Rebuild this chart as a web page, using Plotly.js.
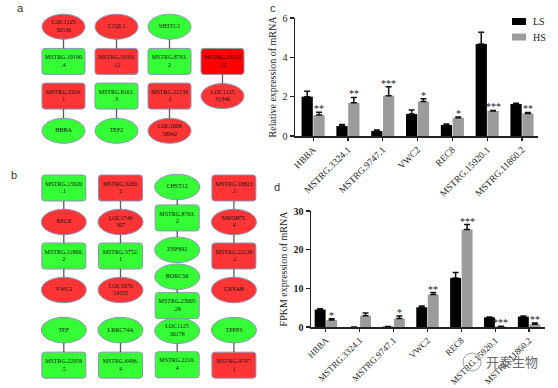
<!DOCTYPE html>
<html><head><meta charset="utf-8">
<script src="https://cdn.plot.ly/plotly-3.0.1.min.js"></script>
<style>html,body{margin:0;padding:0;background:#fff;}#chart{width:558px;height:388px;}</style>
</head><body><div id="chart"></div>
<script>
// ---------- data: bar charts (c, d) ----------
const genes = ['HBBA','MSTRG.3324.1','MSTRG.9747.1','VWC2','REC8','MSTRG.15920.1','MSTRG.11860.2'];
const seriesNames = ['LS','HS'];
const qpcrLS    = [2.0, 0.51, 0.25, 1.12, 0.56, 4.68, 1.63];
const qpcrLSerr = [0.28, 0.08, 0.05, 0.20, 0.05, 0.59, 0.04];
const qpcrHS    = [1.07, 1.69, 2.05, 1.75, 0.93, 1.27, 1.15];
const qpcrHSerr = [0.14, 0.27, 0.46, 0.14, 0.03, 0.03, 0.05];
const qpcrSig   = ['**','**','***','*','*','***','**'];
const fpkmLS    = [4.5, 0, 0.1, 5.1, 12.7, 2.5, 2.7];
const fpkmLSerr = [0.25, 0, 0.05, 0.3, 1.4, 0.1, 0.15];
const fpkmHS    = [1.8, 2.9, 2.2, 8.4, 25.2, 0.15, 0.7];
const fpkmHSerr = [0.35, 0.75, 0.65, 0.5, 1.3, 0.05, 0.35];
const fpkmSig   = ['*','','*','**','***','***','**'];
const cTicks = [0, 2, 4, 6];
const dTicks = [0, 10, 20, 30];

// ---------- data: networks (a, b) ----------
const netALabels = ['LOC1125\n30536','MSTRG.19190\n.4','MSTRG.3324.\n1','HBBA',
  'C1QL1','MSTRG.19331\n.12','MSTRG.8161.\n3','TEF2',
  'SH3TC1','MSTRG.8763.\n2','MSTRG.22136\n.1','LOC1008\n58942',
  'MSTRG.23135\n.12','LOC1125\n31346'];
const netAReg = ['up','down','up','down','up','up','down','down','down','down','up','up','up+','up'];
const netAEdges = [[0,1],[2,3],[4,5],[6,7],[8,9],[10,11],[12,13]];

const netBLabels = ['MSTRG.15920\n.1','REC8','MSTRG.11860.\n2','VWC2','TEF','MSTRG.22956\n.5',
  'MSTRG.3260.\n2','LOC1749\n307','MSTRG.3752.\n1','LOC1070\n54355','LRRC74A','MSTRG.6496.\n4',
  'CHST12','MSTRG.8763.\n2','ZNF692','BORCS6','MSTRG.23005\n.29','LOC1125\n30178','MSTRG.2210.\n4',
  'MSTRG.16823\n.1','MROH7L\n4','MSTRG.22136\n.1','CRYAB','TPPP3','MSTRG.9747.\n1'];
const netBReg = ['down','up','down','up','down','down',
  'up','up','down','up','down','down',
  'down','down','down','down','down','down','down',
  'up','up','up','up','down','up'];
const netBEdges = [[0,1],[1,2],[2,3],[4,5],[6,7],[7,8],[8,9],[10,11],
  [12,13],[13,14],[15,16],[17,18],[19,20],[20,21],[21,22],[23,24]];

// ---------- diagram layout (grid slots: [column, row]) ----------
const gridA = [[0,0],[0,1],[0,2],[0,3],[1,0],[1,1],[1,2],[1,3],[2,0],[2,1],[2,2],[2,3],[3,1],[3,2]];
const gridB = [[0,0],[0,1],[0,2],[0,3],[0,4.18],[0,5.21],
  [1,0],[1,1],[1,2],[1,3],[1,4.18],[1,5.21],
  [2,-0.03],[2,0.88],[2,1.82],[2,2.61],[2,3.46],[2,4.2],[2,5.2],
  [3,0],[3,1],[3,2],[3,3],[3,4.18],[3,5.21]];

const W = 558, H = 388;
const px = v => v / W, py = v => 1 - v / H;
const SERIF = 'Liberation Serif';
const fillFor = {up:'#ff3535', 'up+':'#ff0000', down:'#35ff35'};

function buildNet(labels, reg, edges, grid, xa, ya, d) {
  const shapes = [], ex = [], ey = [];
  const isLnc = i => labels[i].startsWith('MSTRG');
  const size = i => isLnc(i) ? [d.rw / d.px, d.rh / d.py] : [d.ew / d.px, d.eh / d.py];
  edges.forEach(([i, j]) => {
    const y0 = grid[i][1] + size(i)[1] / 2, y1 = grid[j][1] - size(j)[1] / 2;
    if (y1 > y0) { ex.push(grid[i][0], grid[j][0], null); ey.push(y0, y1, null); }
  });
  labels.forEach((lab, i) => {
    const [cx, cy] = grid[i], [w, h] = size(i);
    const base = {xref: xa, yref: ya, layer: 'below', fillcolor: fillFor[reg[i]],
      line: {color: '#8d92b8', width: 1}};
    const x0 = cx - w / 2, x1 = cx + w / 2, y0 = cy - h / 2, y1 = cy + h / 2;
    if (isLnc(i)) {
      const rx = 3 / d.px, ry = 3 / d.py;
      shapes.push(Object.assign({}, base, {type: 'path', path:
        `M${x0+rx},${y0}L${x1-rx},${y0}Q${x1},${y0} ${x1},${y0+ry}L${x1},${y1-ry}Q${x1},${y1} ${x1-rx},${y1}` +
        `L${x0+rx},${y1}Q${x0},${y1} ${x0},${y1-ry}L${x0},${y0+ry}Q${x0},${y0} ${x0+rx},${y0}Z`}));
    } else {
      shapes.push(Object.assign({}, base, {type: 'circle', x0, x1, y0, y1}));
    }
  });
  const traces = [
    {type: 'scatter', mode: 'lines', x: ex, y: ey, xaxis: xa, yaxis: ya,
     line: {color: '#5a5a5a', width: 1.3}, hoverinfo: 'skip', showlegend: false},
    {type: 'scatter', mode: 'text', x: grid.map(g => g[0]), y: grid.map(g => g[1]),
     xaxis: xa, yaxis: ya, text: labels.map(l => l.replace('\n', '<br>')),
     textposition: 'middle center', cliponaxis: false,
     textfont: {family: SERIF, size: 6, color: '#111'}, hoverinfo: 'skip', showlegend: false}
  ];
  return {shapes, traces};
}

const netA = buildNet(netALabels, netAReg, netAEdges, gridA, 'x3', 'y3',
  {px: 53, py: 34.7, rw: 43, rh: 26, ew: 43, eh: 25});
const netB = buildNet(netBLabels, netBReg, netBEdges, gridB, 'x4', 'y4',
  {px: 56.7, py: 34, rw: 44, rh: 26, ew: 45, eh: 25.5});

// ---------- bars ----------
const zeros = genes.map(() => 0);
function barPair(ls, lsErr, hs, hsErr, xa, ya) {
  const err = (a) => ({type: 'data', symmetric: false, array: a, arrayminus: zeros,
    color: '#111', thickness: 1.5, width: 3});
  return [
    {type: 'bar', name: seriesNames[0], x: genes, y: ls, xaxis: xa, yaxis: ya,
     marker: {color: '#000000'}, error_y: err(lsErr), showlegend: false},
    {type: 'bar', name: seriesNames[1], x: genes, y: hs, xaxis: xa, yaxis: ya,
     marker: {color: '#9c9c9c'}, error_y: err(hsErr), showlegend: false}
  ];
}
const BARGAP = 0.32, GROUPGAP = 0.05;
const cDom = [295, 538], cRange = [-0.52, 6.46];
const dDom = [311, 545], dRange = [-0.44, 6.47];
function stars(sig, hs, hsErr, xa, ya, dom, range) {
  const ppu = (dom[1] - dom[0]) / (range[1] - range[0]);
  const off = (1 - BARGAP) / 4 * ppu;
  return sig.map((s, i) => s ? {xref: xa, yref: ya, x: genes[i], y: hs[i] + hsErr[i], text: s,
    showarrow: false, xshift: off, yanchor: 'bottom', yshift: -4,
    font: {family: SERIF, size: 10, color: '#222'}} : null).filter(Boolean);
}

const xCat = (dom, range, anchor, fs) => ({domain: [px(dom[0]), px(dom[1])], range, anchor,
  type: 'category', showline: true, linewidth: 1.5, linecolor: '#222', ticks: 'outside',
  ticklen: 3, tickwidth: 1.2, tickcolor: '#222', tickangle: -45,
  tickfont: {family: SERIF, size: fs, color: '#222'},
  showgrid: false, zeroline: false, fixedrange: true});
const yLin = (top, bottom, range, ticks, anchor, title, bold) => ({
  domain: [py(bottom), py(top)], range, anchor, tickvals: ticks, ticktext: ticks.map(String),
  showline: true, linewidth: 1.5, linecolor: '#222', ticks: 'outside', ticklen: 4, tickwidth: 1.5,
  tickcolor: '#222', tickfont: {family: SERIF, size: 10, color: '#222', weight: bold ? 'bold' : 'normal'},
  showgrid: false, zeroline: false, fixedrange: true,
  title: {text: title, font: {family: SERIF, size: 10, color: '#222'}, standoff: 4}});
const hidden = (dom, range, anchor) => ({domain: dom, range, anchor, visible: false,
  showgrid: false, zeroline: false, fixedrange: true});

const traces = [
  ...barPair(qpcrLS, qpcrLSerr, qpcrHS, qpcrHSerr, 'x', 'y'),
  ...barPair(fpkmLS, fpkmLSerr, fpkmHS, fpkmHSerr, 'x2', 'y2'),
  ...netA.traces, ...netB.traces
];

// legend (panel c) built from series names
const legShapes = [], legAnn = [];
seriesNames.forEach((n, k) => {
  const top = 18 + k * 15.5;
  legShapes.push({type: 'rect', xref: 'paper', yref: 'paper', x0: px(512), x1: px(526),
    y0: py(top + 7), y1: py(top), fillcolor: k === 0 ? '#000000' : '#9c9c9c', line: {width: 0}});
  legAnn.push({xref: 'paper', yref: 'paper', x: px(531), y: py(top + 3.5), xanchor: 'left',
    yanchor: 'middle', text: n, showarrow: false, font: {family: SERIF, size: 10, color: '#222'}});
});

const panelFont = {family: 'Liberation Sans', size: 11, color: '#333'};
const panelLabels = [['a', 20.5, 7.5], ['b', 14, 175.5], ['c', 272.5, 7.5], ['d', 276.5, 186.5]]
  .map(([t, x, y]) => ({xref: 'paper', yref: 'paper', x: px(x), y: py(y), text: t,
    showarrow: false, xanchor: 'center', yanchor: 'middle', font: panelFont}));

const watermark = [{xref: 'paper', yref: 'paper', x: px(484), y: py(361), text: '开泰生物',
  xanchor: 'left', yanchor: 'middle', showarrow: false,
  font: {family: 'Noto Sans CJK SC', size: 13, color: '#6a6a6a'}}];
const wmShape = [{type: 'circle', xref: 'paper', yref: 'paper', x0: px(463), x1: px(481),
  y0: py(371), y1: py(353), line: {color: '#a0a0a0', width: 1}}];

const layout = {
  width: W, height: H, margin: {l: 0, r: 0, t: 0, b: 0},
  paper_bgcolor: '#ffffff', plot_bgcolor: 'rgba(0,0,0,0)',
  barmode: 'group', bargap: BARGAP, bargroupgap: GROUPGAP, showlegend: false,
  xaxis: xCat(cDom, cRange, 'y', 9.5),
  yaxis: yLin(18, 136, [0, 6], cTicks, 'x', 'Relative expression of mRNA', false),
  xaxis2: xCat(dDom, dRange, 'y2', 9),
  yaxis2: yLin(211, 327, [0, 30], dTicks, 'x2', 'FPKM expression of mRNA', true),
  xaxis3: hidden([px(37), px(249)], [-0.5, 3.5], 'y3'),
  yaxis3: hidden([py(148.15), py(9.35)], [3.5, -0.5], 'x3'),
  xaxis4: hidden([px(35.45), px(262.25)], [-0.5, 3.5], 'y4'),
  yaxis4: hidden([py(385.2), py(167.6)], [5.8, -0.6], 'x4'),
  shapes: [...netA.shapes, ...netB.shapes, ...legShapes, ...wmShape],
  annotations: [
    ...stars(qpcrSig, qpcrHS, qpcrHSerr, 'x', 'y', cDom, cRange),
    ...stars(fpkmSig, fpkmHS, fpkmHSerr, 'x2', 'y2', dDom, dRange),
    ...legAnn, ...panelLabels, ...watermark]
};

Plotly.newPlot('chart', traces, layout, {staticPlot: true, displayModeBar: false});
</script></body></html>
